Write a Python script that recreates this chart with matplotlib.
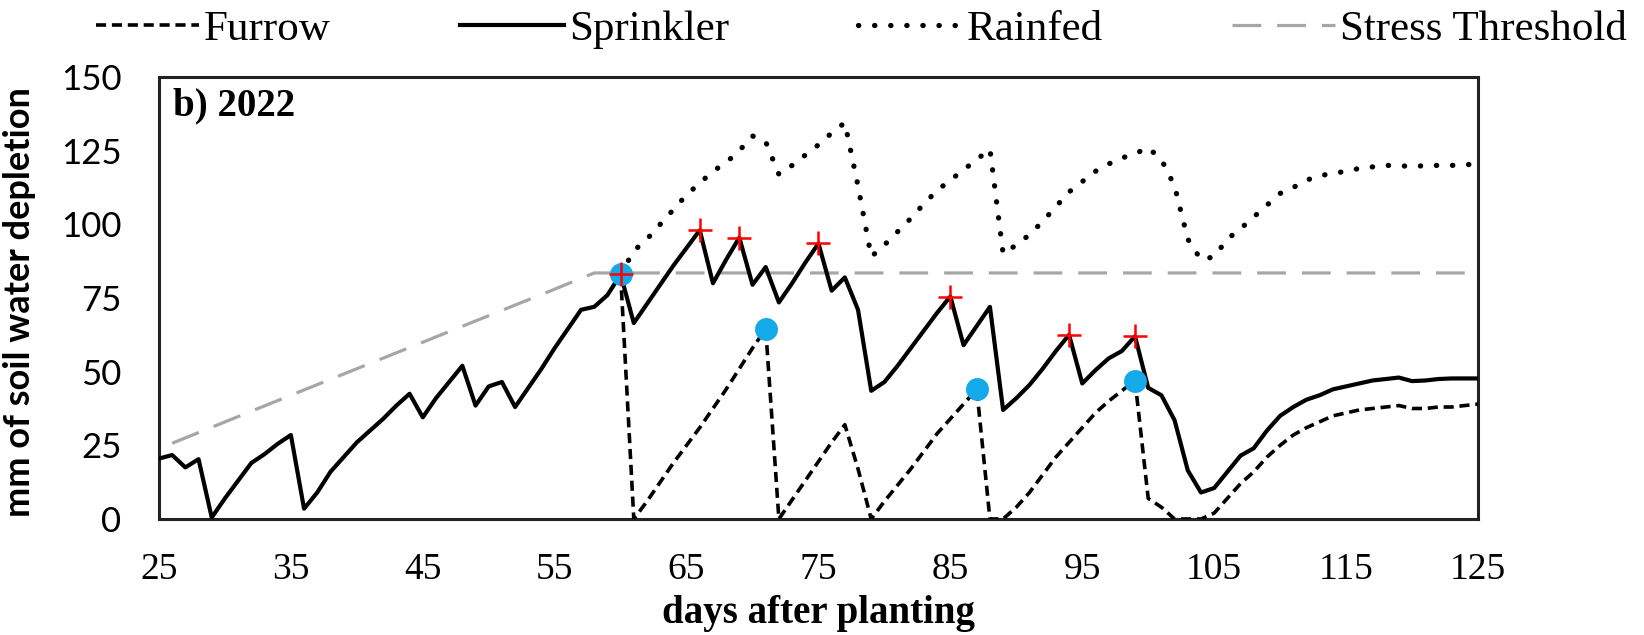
import numpy as np
import matplotlib
matplotlib.use('Agg')
from matplotlib import pyplot as plt

# days after planting
days_spr = np.arange(25, 126)
sprinkler = [20.5, 21.7, 17.5, 20.3, 0.5, 7, 13, 19, 22, 25.5,
             28.5, 3.5, 9, 16, 21, 26, 30, 34, 38.5, 42.5,
             34.5, 41, 46.5, 52, 38.5, 45, 46.5, 38, 44.5, 51,
             58, 64.5, 71, 72, 76, 83, 66.5, 73, 79.5, 86,
             92, 98, 80, 88, 95.5, 79.5, 85.5, 73.5, 80, 87,
             93.5, 77.5, 82, 71, 43.5, 46.5, 52, 58, 64, 70,
             75.5, 59, 65.5, 72, 37, 41, 45.5, 51, 57, 62.5,
             46, 50.5, 54.5, 57, 62, 44.5, 42, 33.5, 16.5, 9,
             10.5, 16, 21.5, 24, 30, 35, 38, 40.5, 42, 44,
             45, 46, 47, 47.5, 48, 46.8, 47, 47.5, 47.7, 47.7,
             47.7]

days_fur = np.arange(60, 126)
furrow = [83, 0, 6, 12.5, 19, 25, 31, 37.5, 44, 51,
          58, 64.5, 0, 6.5, 13, 19.5, 26, 32, 17, 0,
          6, 11.5, 17, 23, 29, 34, 39, 44, 0, 0,
          4, 9, 15, 21, 26, 31, 36, 40, 43.5, 47,
          7, 4, 0, 0, 0, 2, 7, 12, 16, 21,
          25, 28.5, 31, 33, 35, 36, 37, 37.5, 38, 38.5,
          37.5, 37.5, 38, 38, 38.5, 39]

days_rain = np.arange(60, 126)
rainfed = [83, 91, 95, 100, 105, 110, 114, 118, 121, 125,
           130, 128, 117, 120, 123.5, 127, 131, 134.5, 113, 89,
           93, 97.5, 102, 107, 111.5, 115, 118.5, 122, 125.5, 90,
           93, 96.5, 101, 106, 111, 114.5, 118, 120.5, 122.5, 124,
           126, 122, 113, 95, 88, 89, 95, 98.5, 102.5, 106.5,
           110.5, 112.5, 115, 116.5, 117.3, 118, 119, 119.5, 120, 120,
           119.5, 120, 120, 120, 120.3, 120.3]

thr_days = [26, 35, 45, 55, 58, 125]
threshold = [25.7, 42, 60, 78, 83.5, 83.5]

# irrigation events
furrow_irr_days = [60, 71, 87, 99]
furrow_irr_vals = [83, 64.5, 44, 47]
spr_irr_days = [60, 66, 69, 75, 85, 94, 99]
spr_irr_vals = [83, 98, 95.5, 93.5, 75.5, 62.5, 62]

serif = 'Liberation Serif'
sans = 'Lato'

fig = plt.figure(figsize=(16.44, 6.35), dpi=100)
ax = fig.add_axes([0.0967, 0.1827, 0.8023, 0.696])

ax.plot(thr_days, threshold, color='#A6A6A6', lw=2.3,
        ls=(0, (9, 5)), label='Stress Threshold', zorder=1)
ax.plot(days_rain, rainfed, color='k', lw=3.8, ls=(0, (0.05, 3.0)),
        dash_capstyle='round', label='Rainfed', zorder=2)
ax.plot(days_fur, furrow, color='k', lw=2.6, ls=(0, (2.8, 1.6)),
        label='Furrow', zorder=3)
ax.plot(days_spr, sprinkler, color='k', lw=3.0, label='Sprinkler', zorder=4)

ax.plot(furrow_irr_days, furrow_irr_vals, 'o', color='#14A9E8',
        markersize=16.5, markeredgewidth=0, zorder=5)
ax.plot(spr_irr_days, spr_irr_vals, '+', color='#FF0000',
        markersize=17, markeredgewidth=1.8, zorder=6)

ax.set_xlim(25, 125)
ax.set_ylim(0, 150)
ax.set_xticks(np.arange(25, 126, 10))
ax.set_yticks(np.arange(0, 151, 25))
ax.tick_params(axis='both', length=0)
ax.tick_params(axis='x', pad=24)
ax.tick_params(axis='y', pad=27)
for t in ax.get_xticklabels():
    t.set_fontfamily(serif)
    t.set_fontsize(27)
for t in ax.get_yticklabels():
    t.set_fontfamily(sans)
    t.set_fontsize(25)
for s in ax.spines.values():
    s.set_linewidth(2.2)
    s.set_color('#222222')

ax.set_xlabel('days after planting', fontfamily=serif, fontweight='bold',
              fontsize=28)
ax.xaxis.set_label_coords(0.5, -0.172)
ax.set_ylabel('mm of soil water depletion', fontfamily=sans,
              fontweight='bold', fontsize=26)
ax.yaxis.set_label_coords(-0.093, 0.49)

ax.text(0.011, 0.935, 'b) 2022', transform=ax.transAxes, fontfamily=serif,
        fontweight='bold', fontsize=28, va='center', ha='left')

h, l = ax.get_legend_handles_labels()
order = [l.index('Furrow'), l.index('Sprinkler'), l.index('Rainfed'),
         l.index('Stress Threshold')]
fig.legend([h[i] for i in order], [l[i] for i in order], loc='center',
           bbox_to_anchor=(0.524, 0.953), ncol=4, frameon=False,
           prop={'family': serif, 'size': 31}, handlelength=2.4,
           handletextpad=0.12, columnspacing=3.0, borderaxespad=0)

fig.savefig('out.png', dpi=100)
